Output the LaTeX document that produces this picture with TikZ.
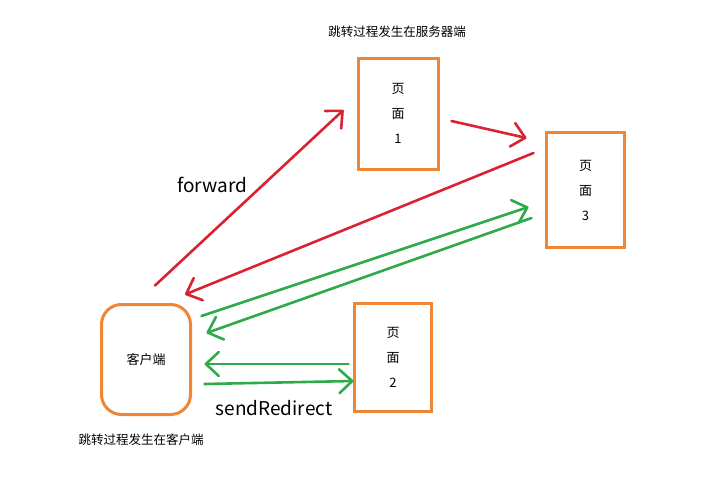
\documentclass[tikz,border=0pt]{standalone}
\usepackage{fontspec}
\newfontfamily\cjk{Noto Sans CJK SC}
\usepackage{tikz}
\usetikzlibrary{arrows.meta}

\definecolor{boxorange}{HTML}{EE8636}
\definecolor{linered}{HTML}{DA2330}
\definecolor{linegreen}{HTML}{2EAA4A}

\tikzset{
  pagebox/.style={draw=boxorange, line width=3pt, inner sep=0pt, align=center,
    font=\cjk\fontsize{13}{25}\selectfont},
  jump/.style={line width=2.6pt, line cap=round,
    -{Straight Barb[length=13pt, width=24pt, round]}},
  note/.style={font=\cjk\fontsize{12.5}{14}\selectfont},
  method/.style={font=\cjk\fontsize{19}{21}\selectfont}
}

\begin{document}
\begin{tikzpicture}[x=1pt, y=-1pt]
    \useasboundingbox (0,0) rectangle (705,477);

    % pages and client
    \node[pagebox, minimum width=80pt, minimum height=111pt] (page1) at (398,113.5) {页\\面\\1};
    \node[pagebox, minimum width=78pt, minimum height=115pt] (page3) at (585.5,190) {页\\面\\3};
    \node[pagebox, minimum width=77pt, minimum height=108pt] (page2) at (393,357.5) {页\\面\\2};
    \node[pagebox, rounded corners=20pt, minimum width=89pt, minimum height=110pt,
      font=\cjk\fontsize{13}{14}\selectfont] (client) at (146,359.5) {客户端};

    \node[note] (serverside) at (397,32) {跳转过程发生在服务器端};
    \node[note] (clientside) at (141,440) {跳转过程发生在客户端};
    \node[method] (forward) at (212,185) {forward};
    \node[method] (redirect) at (274,408) {sendRedirect};

    % forward (red)
    \draw[jump, linered] ([shift={(9,-17.5)}]client.north) -- ([shift={(-13,-3.5)}]page1.west);
    \draw[jump, linered] ([shift={(12,7.5)}]page1.east) -- ([shift={(-18.5,-52)}]page3.west);
    \draw[jump, linered] ([shift={(-11.5,-37)}]page3.west) -- ([shift={(39,-8.5)}]client.north);

    % sendRedirect (green)
    \draw[jump, linegreen] ([shift={(9.5,-43.5)}]client.east) -- ([shift={(-16.5,17)}]page3.west);
    \draw[jump, linegreen] ([shift={(-13.5,28)}]page3.west) -- ([shift={(14.5,-26.5)}]client.east);
    \draw[jump, linegreen] ([shift={(-4.5,6.5)}]page2.west) -- ([shift={(12.5,4.5)}]client.east);
    \draw[jump, linegreen] ([shift={(12.5,24.5)}]client.east) -- ([shift={(0.5,23.5)}]page2.west);

\end{tikzpicture}
\end{document}
